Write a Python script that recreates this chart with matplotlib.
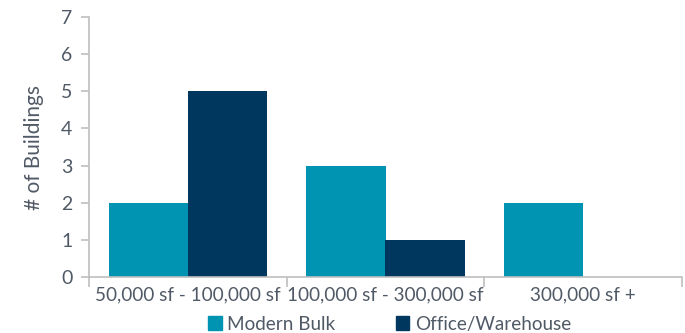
import matplotlib
matplotlib.use("Agg")
import matplotlib.pyplot as plt
import numpy as np
from matplotlib.patches import Patch

categories = ["50,000 sf - 100,000 sf", "100,000 sf - 300,000 sf", "300,000 sf +"]
modern_bulk = [2, 3, 2]
office_warehouse = [5, 1, 0]
series_names = ["Modern Bulk", "Office/Warehouse"]
yticks = [0, 1, 2, 3, 4, 5, 6, 7]

teal = "#0093B2"
navy = "#00375F"
txt = "#505A66"
grid = "#BFBFBF"

plt.rcParams['font.family'] = ['Lato', 'DejaVu Sans']

fig = plt.figure(figsize=(6.85, 3.33), dpi=100)
ax = fig.add_axes([89/685, 56/333, (682-89)/685, (277-17)/333])

x = np.arange(len(categories))
w = 0.4
ax.bar(x - w/2, modern_bulk, width=w, color=teal, linewidth=0)
ax.bar(x + w/2, office_warehouse, width=w, color=navy, linewidth=0)

ax.set_xlim(-0.5, len(categories) - 0.5)
ax.set_ylim(0, 7)
ax.set_yticks(yticks)
ax.set_xticks(x)
ax.set_xticklabels(categories)
ax.set_xticks(np.arange(-0.5, len(categories)), minor=True)

for s in ["top", "right"]:
    ax.spines[s].set_visible(False)
for s in ["left", "bottom"]:
    ax.spines[s].set_color(grid)
    ax.spines[s].set_linewidth(1.2)

ax.tick_params(axis="y", colors=grid, labelcolor=txt, labelsize=14, length=6, width=1.2, pad=6)
ax.tick_params(axis="x", which="major", length=0, labelcolor=txt, labelsize=13.6, pad=7)
ax.tick_params(axis="x", which="minor", length=7, width=1.2, color=grid)

ax.set_ylabel("# of Buildings", color=txt, fontsize=15, labelpad=12)

handles = [Patch(color=teal), Patch(color=navy)]
fig.legend(handles, series_names, loc="lower center", bbox_to_anchor=(0.569, -0.05),
           ncol=2, frameon=False, fontsize=13.6, handlelength=0.7, handleheight=0.7,
           handletextpad=0.3, columnspacing=3.2, labelcolor=txt)

fig.savefig("out.png", dpi=100)
